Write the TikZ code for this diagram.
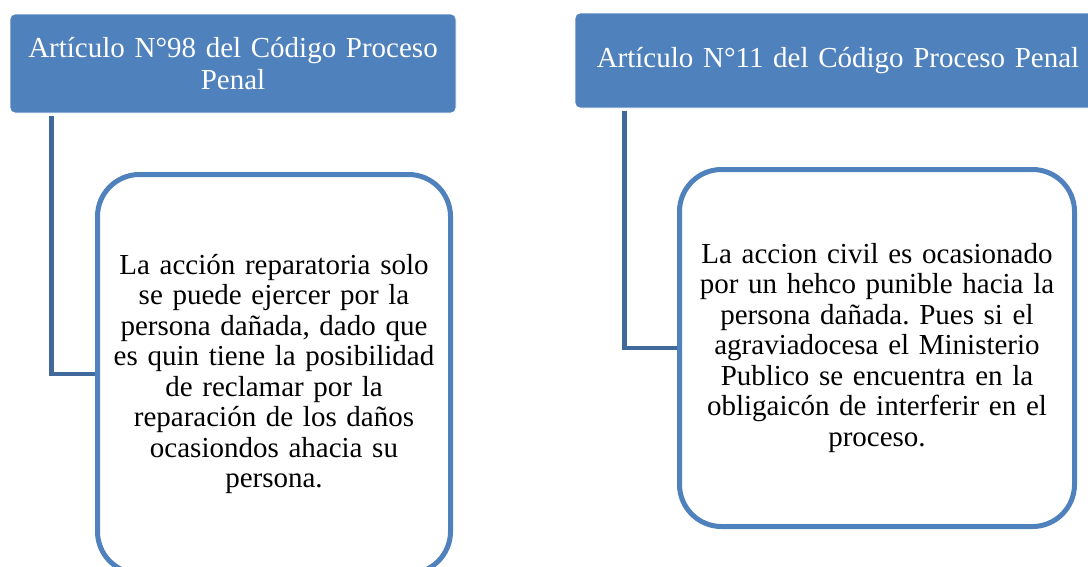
\documentclass[tikz,border=0pt]{standalone}
\usepackage{fontspec}
\setmainfont{Liberation Serif}
\frenchspacing
\definecolor{hdrblue}{HTML}{4F81BD}
\definecolor{connblue}{HTML}{41699B}
\begin{document}
\begin{tikzpicture}[x=1pt,y=-1pt,
  header/.style={fill=hdrblue, draw=white, line width=0.8pt, rounded corners=5pt,
    text=white, align=center, inner sep=0pt,
    font=\fontsize{29}{32}\selectfont\frenchspacing},
  bodybox/.style={draw=hdrblue, line width=5pt, fill=white, rounded corners=42pt,
    align=center, inner sep=0pt, text=black,
    font=\fontsize{29}{30.5}\selectfont\frenchspacing},
  conn/.style={draw=connblue, line width=4.5pt}]
\useasboundingbox (0,0) rectangle (1088,566);
\clip (0,0) rectangle (1088,566);
\fill[white] (0,0) rectangle (1088,566);

\node[header, minimum width=446pt, minimum height=99pt, text width=430pt] (h1) at (233,63.5)
  {Artículo N°98 del Código Proceso\\Penal};
\node[header, minimum width=526pt, minimum height=95pt, text width=510pt] (h2) at (838,60.5)
  {Artículo N°11 del Código Proceso Penal};

\node[bodybox, minimum width=353pt, minimum height=399pt, text width=340pt] (b1) at (274,374)
  {La acción reparatoria solo\\se puede ejercer por la\\persona dañada, dado que\\es quin tiene la posibilidad\\de reclamar por la\\reparación de los daños\\ocasiondos ahacia su\\persona.};
\node[bodybox, minimum width=395pt, minimum height=357pt, text width=380pt] (b2) at (877,348)
  {La accion civil es ocasionado\\por un hehco punible hacia la\\persona dañada. Pues si el\\agraviadocesa el Ministerio\\Publico se encuentra en la\\obligaicón de interferir en el\\proceso.};

\draw[conn] ([xshift=42pt,yshift=-3pt]h1.south west) |- (b1.west);
\draw[conn] ([xshift=50pt,yshift=-3pt]h2.south west) |- (b2.west);
\end{tikzpicture}
\end{document}
